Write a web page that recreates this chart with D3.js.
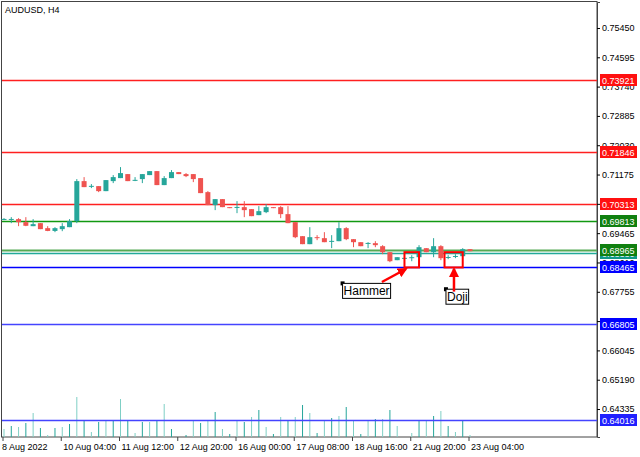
<!DOCTYPE html>
<html>
<head>
<meta charset="utf-8">
<script src="https://cdn.jsdelivr.net/npm/d3@7"></script>
<style>
  body { margin: 0; background: #fff; }
  svg text { font-family: "Liberation Sans", Arial, sans-serif; font-size: 9px; }
</style>
</head>
<body>
<div id="chart"></div>
<script>
// AUDUSD H4 candles, one row per bar: [open, high, low, close]
const candles = [
  [.69874,.69903,.69845,.69880],[.69874,.69932,.69757,.69880],[.69874,.69903,.69669,.69786],
  [.69786,.69932,.69669,.69680],[.69669,.69874,.69669,.69728],[.69757,.69757,.69582,.69582],
  [.69611,.69669,.69523,.69530],[.69530,.69640,.69494,.69611],[.69582,.69757,.69523,.69669],
  [.69640,.69874,.69640,.69815],[.69815,.71042,.69757,.70983],[.70983,.71100,.70808,.70808],
  [.70837,.70896,.70779,.70845],[.70837,.70837,.70662,.70691],[.70691,.71013,.70691,.71013],
  [.70983,.71159,.70925,.71100],[.71071,.71392,.71071,.71217],[.71188,.71188,.70983,.70983],
  [.71013,.71100,.70983,.71020],[.71042,.71188,.70925,.71188],[.71159,.71275,.71159,.71275],
  [.71275,.71275,.70867,.70867],[.70867,.71129,.70867,.71071],[.71071,.71305,.71071,.71246],
  [.71246,.71246,.71188,.71188],[.71188,.71217,.71100,.71129],[.71188,.71188,.70954,.71042],
  [.71071,.71071,.70633,.70633],[.70662,.70691,.70283,.70283],[.70283,.70458,.70137,.70458],
  [.70458,.70458,.70224,.70224],[.70224,.70224,.70195,.70195],[.70224,.70399,.70049,.70230],
  [.70224,.70399,.69932,.70137],[.70166,.70166,.69961,.69961],[.69991,.70253,.69991,.70107],
  [.70078,.70312,.70049,.70224],[.70224,.70224,.70195,.70195],[.70224,.70253,.69903,.70020],
  [.70020,.70253,.69757,.69757],[.69786,.69786,.69319,.69348],[.69377,.69377,.69144,.69144],
  [.69144,.69640,.69144,.69348],[.69348,.69407,.69261,.69319],[.69319,.69494,.69202,.69202],
  [.69231,.69407,.69027,.69240],[.69231,.69786,.69231,.69611],[.69611,.69640,.69261,.69290],
  [.69290,.69290,.69056,.69202],[.69202,.69202,.69085,.69085],[.69173,.69202,.69027,.69180],
  [.69173,.69231,.69056,.69115],[.69085,.69115,.68852,.68910],[.68910,.68910,.68618,.68647],
  [.68677,.68764,.68677,.68764],[.68735,.68764,.68706,.68745],[.68735,.68823,.68647,.68764],
  [.68764,.69115,.68735,.69056],[.69027,.69027,.68910,.68910],[.68910,.69319,.68764,.69085],
  [.69085,.69115,.68677,.68735],[.68764,.68823,.68706,.68770],[.68793,.68852,.68735,.68800],
  [.68793,.69027,.68793,.68998],[.68998,.68998,.68939,.68939]
];
// tick volumes per bar
const volumes = [800,1100,1000,1400,2400,900,200,900,1000,1300,4000,1700,500,1500,1600,1700,3800,1700,400,1500,
  1500,1700,3300,800,0,200,1600,1400,1700,2500,800,300,1600,1500,2000,2700,1000,300,2000,1700,
  2000,3200,2400,400,1700,1900,2100,3000,1600,300,1700,1800,1800,2700,1100,0,400,1700,1700,2100,
  2600,1100,500,1700,200];
const dateLabels = ["8 Aug 2022","10 Aug 04:00","11 Aug 12:00","12 Aug 20:00","16 Aug 00:00",
  "17 Aug 08:00","18 Aug 16:00","21 Aug 20:00","23 Aug 04:00"];
const dateIdx = [0,8,16,24,32,40,48,56,64];
const priceTicks = [0.75450,0.74595,0.73740,0.72885,0.72030,0.71175,0.70320,0.69465,0.68610,
  0.67755,0.66900,0.66045,0.65190,0.64335];
const levelValues = [0.73921,0.71846,0.70313,0.69813,0.68880,0.68965,0.68465,0.66805,0.64016];
const levelColors = ["#ff2020","#ff2020","#ff2020","#119911","#22aa99","#55aa55","#0000ff","#4444ff","#4444ff"];
const labelColors = ["#ff1010","#ff1010","#ff1010","#108010","#109988","#108010","#0000ff","#0000ff","#2020ff"];
const patterns = [{name: "Hammer", from: 55, to: 57, lo: 0.68465, hi: 0.68910, lx: 46.5, lp: 0.68000},
                  {name: "Doji", from: 60.5, to: 63, lo: 0.68465, hi: 0.68910, lx: 60.7, lp: 0.67830}];

const W = 640, H = 457, plotR = 597, plotB = 437;
const svg = d3.select("#chart").append("svg").attr("width", W).attr("height", H);

const x = d3.scaleLinear().domain([0, 64]).range([4, 470]);
const y = d3.scaleLinear().domain([0.63519, 0.76208]).range([plotB, 2]);
const vy = d3.scaleLinear().domain([0, 4000]).range([plotB, plotB - 40]);
const up = "#26a69a", down = "#ef5350";

// frame
svg.append("rect").attr("x", 1.5).attr("y", 1.5).attr("width", plotR - 1.5).attr("height", plotB - 1.5)
  .attr("fill", "none").attr("stroke", "#444");
svg.append("text").attr("x", 5).attr("y", 13).text("AUDUSD, H4");

// volumes
svg.append("g").selectAll("line").data(volumes).enter().append("line")
  .attr("x1", (d, i) => x(i)).attr("x2", (d, i) => x(i))
  .attr("y1", plotB).attr("y2", d => vy(d))
  .attr("stroke", (d, i) => i % 2 ? up : "#7fcfc5").attr("stroke-width", 1);

// levels
svg.append("g").selectAll("line").data(levelValues).enter().append("line")
  .attr("x1", 2).attr("x2", plotR).attr("y1", d => Math.round(y(d)) + 0.5).attr("y2", d => Math.round(y(d)) + 0.5)
  .attr("stroke", (d, i) => levelColors[i]).attr("stroke-width", (d, i) => i === 5 ? 2 : 1.3);

// candles
const g = svg.append("g").selectAll("g").data(candles).enter().append("g");
g.append("line").attr("x1", (d, i) => x(i)).attr("x2", (d, i) => x(i))
  .attr("y1", d => y(d[1])).attr("y2", d => y(d[2]))
  .attr("stroke", d => d[3] >= d[0] ? up : down);
g.append("rect").attr("x", (d, i) => x(i) - 2.5).attr("width", 5)
  .attr("y", d => y(Math.max(d[0], d[3])))
  .attr("height", d => Math.max(1, Math.abs(y(d[0]) - y(d[3]))))
  .attr("fill", d => d[3] >= d[0] ? up : down);

// patterns
patterns.forEach(p => {
  svg.append("rect").attr("x", x(p.from)).attr("width", x(p.to) - x(p.from))
    .attr("y", y(p.hi)).attr("height", y(p.lo) - y(p.hi))
    .attr("fill", "none").attr("stroke", "#f00").attr("stroke-width", 2);
  const lx = x(p.lx), ly = y(p.lp);
  svg.append("rect").attr("x", lx - 2).attr("y", ly - 2).attr("width", 4).attr("height", 4).attr("fill", "#000");
  const t = svg.append("text").attr("x", lx + 1).attr("y", ly + 12).style("font-size", "12px").text(p.name);
  const bb = t.node().getBBox();
  svg.insert("rect", "text:last-of-type").attr("x", lx).attr("y", ly).attr("width", bb.width + 2).attr("height", 15)
    .attr("fill", "#fff").attr("stroke", "#000");
  t.raise();
});
svg.append("defs").append("marker").attr("id", "ah").attr("viewBox", "0 0 10 10").attr("refX", 8).attr("refY", 5)
  .attr("markerWidth", 4).attr("markerHeight", 4).attr("orient", "auto")
  .append("path").attr("d", "M0,0L10,5L0,10z").attr("fill", "#f00");
svg.append("line").attr("x1", x(51.9)).attr("y1", y(0.68040)).attr("x2", x(55.2)).attr("y2", y(0.68420))
  .attr("stroke", "#f00").attr("stroke-width", 2.5).attr("marker-end", "url(#ah)");
svg.append("line").attr("x1", x(61.8)).attr("y1", y(0.67760)).attr("x2", x(61.8)).attr("y2", y(0.68420))
  .attr("stroke", "#f00").attr("stroke-width", 2.5).attr("marker-end", "url(#ah)");

// price axis
const ya = svg.append("g").attr("transform", `translate(${plotR},0)`)
  .call(d3.axisRight(y).tickValues(priceTicks).tickSize(3).tickFormat(d3.format(".5f")));
ya.attr("font-size", null).attr("font-family", null);
ya.select(".domain").attr("stroke", "#444");
ya.selectAll("text").attr("x", 5);

// level labels
const lab = svg.append("g").selectAll("g").data(levelValues).enter().append("g")
  .attr("transform", d => `translate(${plotR + 3},${Math.round(y(d)) - 6})`);
lab.append("rect").attr("width", 37).attr("height", 12).attr("fill", (d, i) => labelColors[i]);
lab.append("text").attr("x", 2).attr("y", 9.5).attr("fill", "#fff").text(d => d.toFixed(5));

// time axis
const xa = svg.append("g");
xa.selectAll("line").data(dateIdx).enter().append("line")
  .attr("x1", d => x(d) - 1).attr("x2", d => x(d) - 1).attr("y1", plotB).attr("y2", plotB + 4).attr("stroke", "#444");
xa.selectAll("text").data(dateIdx).enter().append("text")
  .attr("x", (d, i) => i === 0 ? 2 : x(d) + 1).attr("y", plotB + 13).text((d, i) => dateLabels[i]);
</script>
</body>
</html>
